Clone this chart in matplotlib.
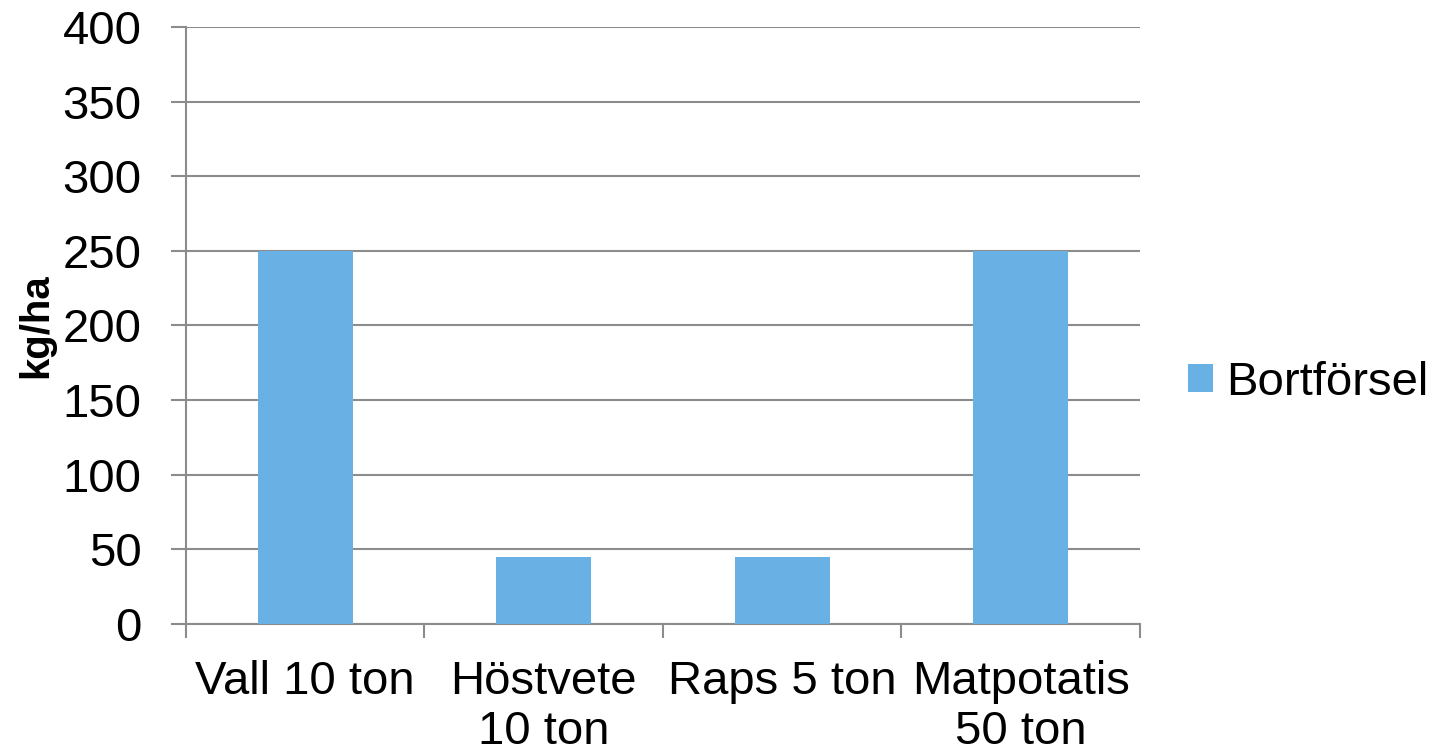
import matplotlib.pyplot as plt
from matplotlib.patches import Patch

plt.rcParams['font.family'] = ['Liberation Sans', 'DejaVu Sans']

# Data
crops = ["Vall 10 ton", "Höstvete\n10 ton", "Raps 5 ton", "Matpotatis\n50 ton"]
removal = [250, 45, 45, 250]
y_ticks = [0, 50, 100, 150, 200, 250, 300, 350, 400]

bar_color = "#69B1E4"
grid_color = "#8C8C8C"

fig = plt.figure(figsize=(14.35, 7.56), dpi=100)
ax = fig.add_axes([0.1296, 0.1746, 0.6648, 0.7897])

x = list(range(len(crops)))
ax.bar(x, removal, width=0.4, color=bar_color, zorder=3)

ax.set_xlim(-0.5, len(crops) - 0.5)
ax.set_ylim(0, 400)

# Horizontal gridlines
ax.set_yticks(y_ticks)
ax.yaxis.grid(True, color=grid_color, linewidth=1.5, zorder=0)
ax.tick_params(axis='y', length=11, width=1.5, color=grid_color, pad=21,
               labelsize=34, labelcolor='black')

# Category separators as major ticks, labels on minor ticks
ax.set_xticks([i - 0.5 for i in range(len(crops) + 1)])
ax.set_xticklabels([])
ax.set_xticks(x, minor=True)
ax.set_xticklabels(crops, minor=True, linespacing=1.16)
ax.tick_params(axis='x', which='major', length=10, width=1.5, color=grid_color)
ax.tick_params(axis='x', which='minor', length=0, pad=26, labelsize=34)

for side in ['top', 'right']:
    ax.spines[side].set_visible(False)
for side in ['left', 'bottom']:
    ax.spines[side].set_color(grid_color)
    ax.spines[side].set_linewidth(1.5)

ax.set_ylabel("kg/ha", fontsize=29, fontweight='bold', labelpad=5)

# Legend
handle = Patch(facecolor=bar_color, edgecolor='none')
fig.legend([handle], ["Bortförsel"], loc='center left',
           bbox_to_anchor=(1188 / 1435, 1 - 383 / 756), frameon=False,
           fontsize=34, handlelength=0.52, handleheight=0.52,
           handletextpad=0.28, borderpad=0, borderaxespad=0)

fig.savefig("out.png", dpi=100)
